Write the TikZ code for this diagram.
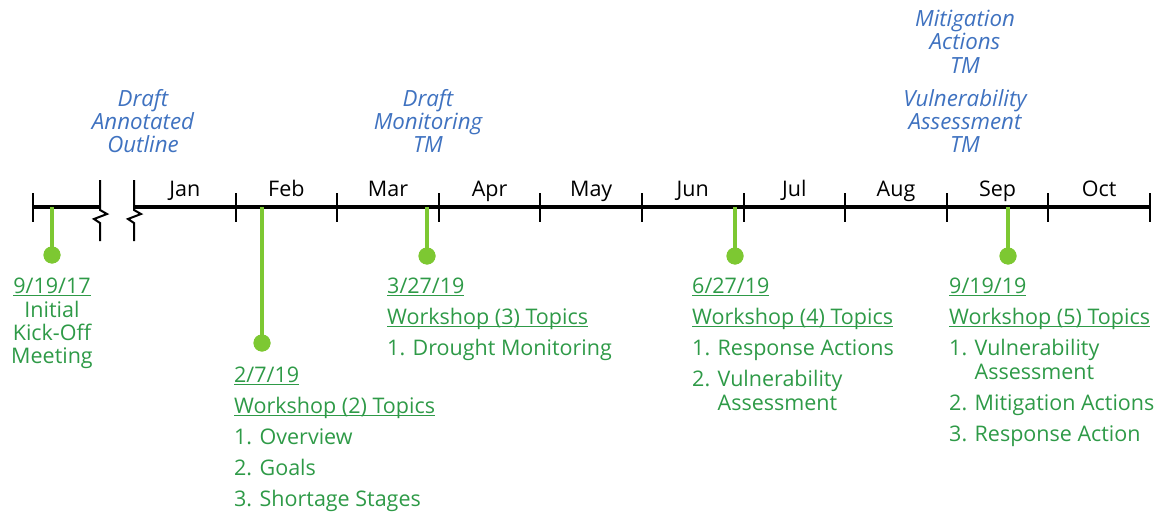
\documentclass[tikz,border=0pt]{standalone}
\usepackage{fontspec}
\setmainfont{Open Sans}
\usetikzlibrary{positioning}
\definecolor{stemgreen}{HTML}{7DC832}
\definecolor{txtgreen}{HTML}{2E9A47}
\definecolor{tmblue}{HTML}{3F72C0}
\newcommand{\udl}[1]{\setbox0\hbox{#1}\rlap{\rule[-3pt]{\wd0}{1.2pt}}\box0}

\begin{document}
\begin{tikzpicture}[x=1pt, y=-1pt, inner sep=0pt, font=\fontsize{21.5}{23.5}\selectfont]

\tikzstyle{axis}=[line width=4.5pt]
\tikzstyle{tick}=[line width=2pt]
\tikzstyle{month}=[anchor=base]
\tikzstyle{stem}=[stemgreen, line width=4.5pt]
\tikzstyle{dot}=[circle, fill=stemgreen, minimum size=17pt]
\tikzstyle{lbl}=[txtgreen, anchor=base west]
\tikzstyle{clbl}=[txtgreen, anchor=base]
\tikzstyle{tm}=[tmblue, anchor=base, font=\fontsize{22.3}{23.5}\selectfont\itshape]

\useasboundingbox (0,0) rectangle (1163,514);

% axis with the break
\coordinate (lend) at (33,207);
\coordinate (brkL) at (100,207);
\coordinate (brkR) at (134,207);
\coordinate (rend) at (1150,207);
\draw[axis] (lend) -- (brkL);
\draw[axis] (brkR) -- (rend);
\draw[tick] (33,193) -- (33,222);
\foreach \bx in {100,134}
  \draw[tick, line join=miter] (\bx,180) -- ++(0,30) -- ++(7,4) -- ++(-13,5) -- ++(6,4) -- (\bx,241);

\foreach \m [count=\k] in {Jan,Feb,Mar,Apr,May,Jun,Jul,Aug,Sep,Oct} {
  \draw[tick] ({134+101.6*\k},193) -- ({134+101.6*\k},222);
  \node[month] (m\m) at ({134+101.6*\k-50.8},196) {\m};
}

% deliverables
\node[tm] (ao1) at (143,106) {Draft};
\node[tm] (ao2) at (143,129) {Annotated};
\node[tm] (ao3) at (143,152) {Outline};
\node[tm] (mt1) at (428,106) {Draft};
\node[tm] (mt2) at (428,129) {Monitoring};
\node[tm] (mt3) at (428,152) {TM};
\node[tm] (ma1) at (965,26) {Mitigation};
\node[tm] (ma2) at (965,49) {Actions};
\node[tm] (ma3) at (965,73) {TM};
\node[tm] (va1) at (965,106) {Vulnerability};
\node[tm] (va2) at (965,129) {Assessment};
\node[tm] (va3) at (965,152) {TM};

% meetings
\coordinate (e1) at (52,207);
\coordinate (e2) at (262,207);
\coordinate (e3) at (427,207);
\coordinate (e4) at (735,207);
\coordinate (e5) at (1008,207);
\node[dot] (kick) at (52,255) {};
\node[dot] (ws2) at (262,343) {};
\node[dot] (ws3) at (427,256) {};
\node[dot] (ws4) at (735,256) {};
\node[dot] (ws5) at (1008,256) {};
\draw[stem] (e1) -- (kick.center);
\draw[stem] (e2) -- (ws2.center);
\draw[stem] (e3) -- (ws3.center);
\draw[stem] (e4) -- (ws4.center);
\draw[stem] (e5) -- (ws5.center);
\node[dot] at (kick) {};
\node[dot] at (ws2) {};
\node[dot] at (ws3) {};
\node[dot] at (ws4) {};
\node[dot] at (ws5) {};

\node[clbl] (kdate) at (52,293) {\udl{9/19/17}};
\node[clbl] (kt1) at (52,317) {Initial};
\node[clbl] (kt2) at (52,340) {Kick-Off};
\node[clbl] (kt3) at (52,363) {Meeting};

\node[lbl] (w2date) at (234,382) {\udl{2/7/19}};
\node[lbl] (w2head) at (234,413) {\udl{Workshop (2) Topics}};
\node[lbl] (w2t1) at (234,444) {1. Overview};
\node[lbl] (w2t2) at (234,475) {2. Goals};
\node[lbl] (w2t3) at (234,506) {3. Shortage Stages};

\node[lbl] (w3date) at (387,293) {\udl{3/27/19}};
\node[lbl] (w3head) at (387,324) {\udl{Workshop (3) Topics}};
\node[lbl] (w3t1) at (387,355) {1. Drought Monitoring};

\node[lbl] (w4date) at (692,293) {\udl{6/27/19}};
\node[lbl] (w4head) at (692,324) {\udl{Workshop (4) Topics}};
\node[lbl] (w4t1) at (692,355) {1. Response Actions};
\node[lbl] (w4t2) at (692,386) {2. Vulnerability};
\node[lbl] (w4t2b) at (692,410) {\phantom{2. }Assessment};

\node[lbl] (w5date) at (949,293) {\udl{9/19/19}};
\node[lbl] (w5head) at (949,324) {\udl{Workshop (5) Topics}};
\node[lbl] (w5t1) at (949,355) {1. Vulnerability};
\node[lbl] (w5t1b) at (949,379) {\phantom{1. }Assessment};
\node[lbl] (w5t2) at (949,410) {2. Mitigation Actions};
\node[lbl] (w5t3) at (949,441) {3. Response Action};

\end{tikzpicture}
\end{document}
